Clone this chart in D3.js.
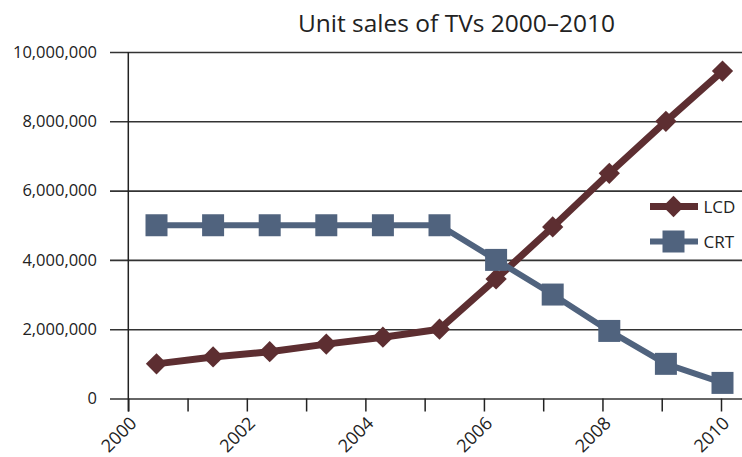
<!DOCTYPE html>
<html>
<head>
<meta charset="utf-8">
<script src="https://cdn.jsdelivr.net/npm/d3@7"></script>
<style>
  body { margin: 0; background: #fff; }
  svg text { font-family: "Open Sans", "DejaVu Sans", sans-serif; fill: #222; }
  .year-label { font-size: 18px; }
</style>
</head>
<body>
<svg id="chart" width="742" height="457"></svg>
<script>
// Yearly unit sales
const years = [2000, 2001, 2002, 2003, 2004, 2005, 2006, 2007, 2008, 2009, 2010];
const lcdSales = [1000000, 1200000, 1350000, 1570000, 1770000, 2000000, 3450000, 4950000, 6500000, 8000000, 9450000];
const crtSales = [5000000, 5000000, 5000000, 5000000, 5000000, 5000000, 4000000, 3000000, 1950000, 1000000, 450000];
const yTickValues = [0, 2000000, 4000000, 6000000, 8000000, 10000000];
const labelYears = [2000, 2002, 2004, 2006, 2008, 2010];
const seriesNames = ["LCD", "CRT"];

const svg = d3.select("#chart");
const colors = { LCD: "#5d2e31", CRT: "#50637e" };

// Scales: tick axis spans 2000–2010, markers sit on their own point scale
const xTicks = d3.scaleLinear().domain([2000, 2010]).range([128.3, 721]);
const xPoints = d3.scalePoint().domain(years).range([156.5, 722.5]);
const y = d3.scaleLinear().domain([0, 10000000]).range([398.5, 52]);

// Title
svg.append("text")
  .attr("x", 456.5).attr("y", 31.5)
  .attr("text-anchor", "middle")
  .style("font-size", "24.5px")
  .text("Unit sales of TVs 2000–2010");

// Horizontal gridlines with value labels
const yAxis = svg.append("g")
  .attr("transform", "translate(110,0)")
  .call(d3.axisLeft(y)
    .tickValues(yTickValues)
    .tickSize(-632)
    .tickPadding(13)
    .tickFormat(d3.format(",")));
yAxis.attr("font-size", null).attr("font-family", null);
yAxis.select(".domain").remove();
yAxis.selectAll(".tick line").attr("stroke", "#333").attr("stroke-width", 1.6);
yAxis.selectAll(".tick text").style("font-size", "16.5px").attr("fill", "#222");

// Vertical axis line
svg.append("line")
  .attr("x1", xTicks(2000)).attr("x2", xTicks(2000))
  .attr("y1", y(10000000)).attr("y2", y(0) + 13)
  .attr("stroke", "#222").attr("stroke-width", 1.5);

// Year ticks with rotated labels
const xAxis = svg.append("g")
  .attr("transform", `translate(0,${y(0)})`)
  .call(d3.axisBottom(xTicks)
    .tickValues(years)
    .tickSize(13)
    .tickFormat(d => labelYears.includes(d) ? String(d) : ""));
xAxis.attr("font-size", null).attr("font-family", null);
xAxis.select(".domain").remove();
xAxis.selectAll(".tick line").attr("stroke", "#222").attr("stroke-width", 1.5);
xAxis.selectAll(".tick text")
  .attr("class", "year-label")
  .attr("x", 0).attr("y", 0).attr("dy", null)
  .attr("text-anchor", "end")
  .attr("transform", "translate(9,26) rotate(-45)")
  .attr("fill", "#222");

// Series lines and markers
const line = d3.line().x((d, i) => xPoints(years[i])).y(d => y(d));
const diamond = d3.symbol().type(d3.symbolDiamond2).size(288);
const square = d3.symbol().type(d3.symbolSquare).size(22 * 22);

function drawSeries(values, color, width, markerGen) {
  const g = svg.append("g");
  g.append("path")
    .datum(values)
    .attr("d", line)
    .attr("fill", "none")
    .attr("stroke", color)
    .attr("stroke-width", width)
    .attr("stroke-linejoin", "round");
  g.selectAll("path.mark")
    .data(values)
    .join("path")
    .attr("class", "mark")
    .attr("d", markerGen)
    .attr("transform", (d, i) => `translate(${xPoints(years[i])},${y(d)})`)
    .attr("fill", color);
}

drawSeries(lcdSales, colors.LCD, 7, diamond);
drawSeries(crtSales, colors.CRT, 6, square);

// Legend
const legend = svg.append("g");
const legendRows = [
  { name: seriesNames[0], y: 206.5, width: 7, marker: diamond },
  { name: seriesNames[1], y: 241.5, width: 6, marker: square }
];
legendRows.forEach(r => {
  const c = colors[r.name];
  legend.append("line")
    .attr("x1", 650).attr("x2", 698)
    .attr("y1", r.y).attr("y2", r.y)
    .attr("stroke", c).attr("stroke-width", r.width);
  legend.append("path")
    .attr("d", r.marker())
    .attr("transform", `translate(673.5,${r.y})`)
    .attr("fill", c);
  legend.append("text")
    .attr("x", 703.5).attr("y", r.y)
    .attr("dy", "0.36em")
    .style("font-size", "17px")
    .text(r.name);
});
</script>
</body>
</html>
